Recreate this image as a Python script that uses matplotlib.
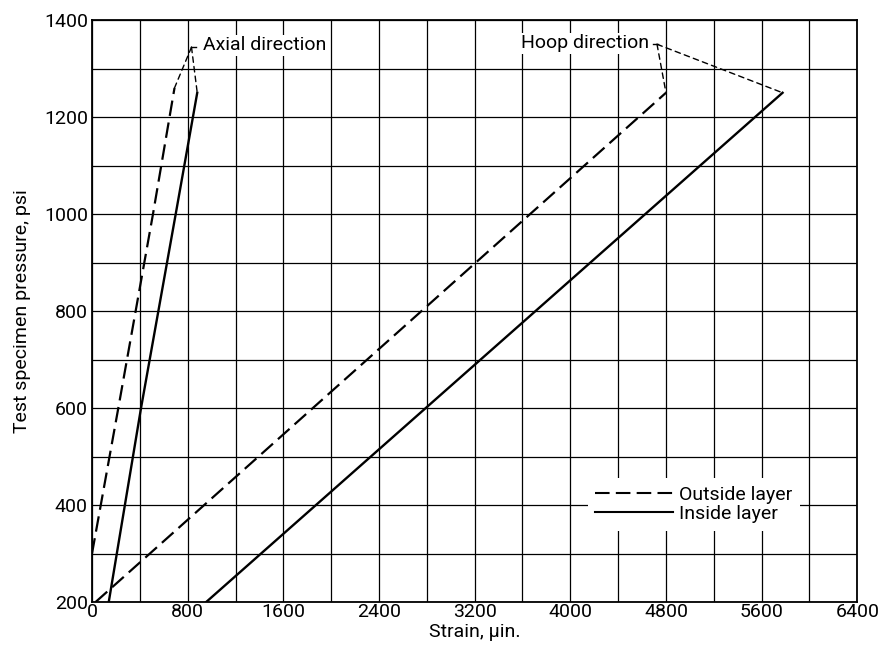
import matplotlib
matplotlib.use("Agg")
import matplotlib.pyplot as plt
from matplotlib.ticker import MultipleLocator
from matplotlib.lines import Line2D

plt.rcParams['font.family'] = ['Roboto', 'DejaVu Sans']

# Data
axial_outside_strain = [0, 220, 510, 690]
axial_outside_pressure = [300, 600, 1000, 1260]
axial_inside_strain = [140, 410, 700, 880]
axial_inside_pressure = [200, 600, 1000, 1250]
hoop_outside_strain = [30, 4800]
hoop_outside_pressure = [200, 1250]
hoop_inside_strain = [955, 5775]
hoop_inside_pressure = [200, 1250]

xticks = [0, 800, 1600, 2400, 3200, 4000, 4800, 5600, 6400]
yticks = [200, 400, 600, 800, 1000, 1200, 1400]

fig = plt.figure(figsize=(8.83, 6.54), dpi=100)
ax = fig.add_axes([0.1042, 0.0795, 0.8667, 0.8899])
ax.set_xlim(0, 6400)
ax.set_ylim(200, 1400)
ax.set_xticks(xticks)
ax.set_yticks(yticks)
ax.xaxis.set_minor_locator(MultipleLocator(400))
ax.yaxis.set_minor_locator(MultipleLocator(100))
ax.grid(True, which='both', color='black', linewidth=0.9)
ax.set_axisbelow(True)
ax.tick_params(which='both', length=0, labelsize=14, pad=3)
ax.tick_params(axis='x', pad=1)
for s in ax.spines.values():
    s.set_linewidth(1.3)

dash = (0, (7, 3))
ax.plot(axial_outside_strain, axial_outside_pressure, color='black', lw=1.6, linestyle=dash)
ax.plot(axial_inside_strain, axial_inside_pressure, color='black', lw=1.7)
ax.plot(hoop_outside_strain, hoop_outside_pressure, color='black', lw=1.6, linestyle=dash)
ax.plot(hoop_inside_strain, hoop_inside_pressure, color='black', lw=1.7)

# Leader lines and labels
leader = dict(arrowstyle='-', color='black', lw=1.0, linestyle=(0, (4, 3)), shrinkA=0, shrinkB=0)
axial_tip = (832, 1344)
for tgt in [(axial_outside_strain[-1], axial_outside_pressure[-1]),
            (axial_inside_strain[-1], axial_inside_pressure[-1])]:
    ax.annotate('', xy=tgt, xytext=axial_tip, arrowprops=leader)
ax.plot([832, 870], [1345, 1345], color='black', lw=1.0)
ax.text(925, 1348, 'Axial direction', fontsize=14, va='center', ha='left',
        bbox=dict(facecolor='white', edgecolor='none', pad=1))

hoop_tip = (4725, 1350)
for tgt in [(hoop_outside_strain[-1], hoop_outside_pressure[-1]),
            (hoop_inside_strain[-1], hoop_inside_pressure[-1])]:
    ax.annotate('', xy=tgt, xytext=hoop_tip, arrowprops=leader)
ax.plot([4695, 4735], [1350, 1350], color='black', lw=1.0)
ax.text(4660, 1352, 'Hoop direction', fontsize=14, va='center', ha='right',
        bbox=dict(facecolor='white', edgecolor='none', pad=1))

# Legend
handles = [Line2D([], [], color='black', lw=1.5, linestyle=dash),
           Line2D([], [], color='black', lw=1.5)]
leg = ax.legend(handles, ['Outside layer', 'Inside layer'], loc='upper left',
                bbox_to_anchor=(0.635, 0.229), fontsize=14, frameon=True,
                handlelength=4.0, handletextpad=0.3, labelspacing=0.05,
                borderpad=0.4, fancybox=False)
leg.get_frame().set_edgecolor('none')
leg.get_frame().set_facecolor('white')
leg.get_frame().set_alpha(1)

ax.set_xlabel('Strain, μin.', fontsize=14)
ax.set_ylabel('Test specimen pressure, psi', fontsize=14)
ax.xaxis.set_label_coords(0.5, -0.036)
ax.yaxis.set_label_coords(-0.08, 0.5)

fig.savefig('out.png', dpi=100)
